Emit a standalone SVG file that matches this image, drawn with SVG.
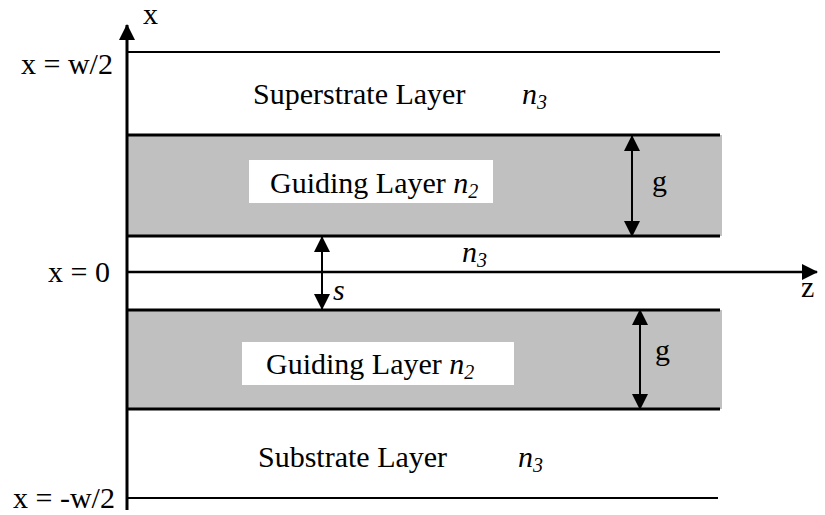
<svg xmlns="http://www.w3.org/2000/svg" width="825" height="515" viewBox="0 0 825 515">
<defs>
<style>
.t{font-family:"Liberation Serif","Times New Roman",serif;font-size:30px;fill:#000}
.i{font-style:italic}
.ln{stroke:#000;fill:none}
.band{fill:#c0c0c0}
.box{fill:#fff}
</style>
<marker id="ah" markerUnits="userSpaceOnUse" markerWidth="16" markerHeight="16" viewBox="0 0 16 16" refX="15" refY="8" orient="auto-start-reverse">
<path d="M0,0 L16,8 L0,16 Z" fill="#000"/>
</marker>
</defs>
<g id="superstrate">
<line class="ln" x1="127" y1="52" x2="720" y2="52" stroke-width="2"/>
<text class="t" x="253" y="104">Superstrate Layer</text>
<text class="t i" x="522" y="104">n<tspan font-size="20" dy="5">3</tspan></text>
</g>
<g id="guiding-upper">
<rect class="band" x="127" y="135" width="595" height="101"/>
<line class="ln" x1="127" y1="135" x2="720" y2="135" stroke-width="3"/>
<line class="ln" x1="127" y1="236" x2="720" y2="236" stroke-width="3"/>
<rect class="box" x="249" y="160" width="244" height="43"/>
<text class="t" x="270" y="193">Guiding Layer <tspan class="i">n</tspan><tspan class="i" font-size="20" dy="5">2</tspan></text>
</g>
<g id="gap">
<text class="t i" x="462" y="262">n<tspan font-size="20" dy="5">3</tspan></text>
</g>
<g id="guiding-lower">
<rect class="band" x="127" y="310" width="595" height="99"/>
<line class="ln" x1="127" y1="310" x2="720" y2="310" stroke-width="3"/>
<line class="ln" x1="127" y1="409" x2="720" y2="409" stroke-width="3"/>
<rect class="box" x="242" y="342" width="272" height="43"/>
<text class="t" x="266" y="374">Guiding Layer <tspan class="i">n</tspan><tspan class="i" font-size="20" dy="5">2</tspan></text>
</g>
<g id="substrate">
<line class="ln" x1="127" y1="498" x2="718" y2="498" stroke-width="2"/>
<text class="t" x="258" y="467">Substrate Layer</text>
<text class="t i" x="518" y="467">n<tspan font-size="20" dy="5">3</tspan></text>
</g>
<g id="labels">
<text class="t" x="143" y="24">x</text>
<text class="t" x="21" y="74">x = w/2</text>
<text class="t" x="48" y="282">x = 0</text>
<text class="t" x="13" y="508">x = -w/2</text>
<text class="t" x="801" y="297">z</text>
<text class="t i" x="333" y="300">s</text>
<text class="t" x="652" y="191">g</text>
<text class="t" x="655" y="360">g</text>
</g>
<g id="connectors">
<line class="ln" x1="127" y1="510" x2="127" y2="25" stroke-width="3" marker-end="url(#ah)"/>
<line class="ln" x1="127" y1="272" x2="817" y2="272" stroke-width="2.5" marker-end="url(#ah)"/>
<line class="ln" x1="322" y1="237" x2="322" y2="309" stroke-width="2" marker-start="url(#ah)" marker-end="url(#ah)"/>
<line class="ln" x1="632" y1="136" x2="632" y2="236" stroke-width="2" marker-start="url(#ah)" marker-end="url(#ah)"/>
<line class="ln" x1="640" y1="310" x2="640" y2="409" stroke-width="2" marker-start="url(#ah)" marker-end="url(#ah)"/>
</g>
</svg>
